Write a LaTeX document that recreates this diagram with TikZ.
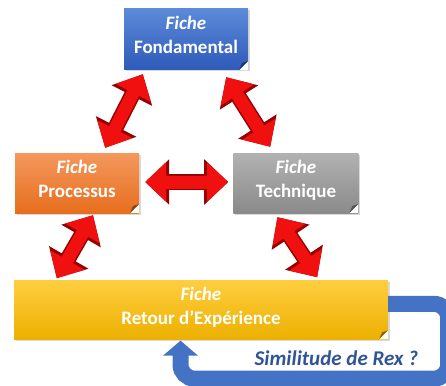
\documentclass[tikz,border=0pt]{standalone}
\usepackage{fontspec}
\setmainfont{Carlito}
\definecolor{bluetop}{RGB}{92, 138, 216}
\definecolor{bluebot}{RGB}{46, 90, 186}
\definecolor{orangetop}{RGB}{243, 152, 92}
\definecolor{orangebot}{RGB}{231, 110, 30}
\definecolor{graytop}{RGB}{178, 178, 178}
\definecolor{graybot}{RGB}{138, 138, 138}
\definecolor{yellowtop}{RGB}{255, 206, 64}
\definecolor{yellowbot}{RGB}{236, 176, 0}
\definecolor{linkred}{RGB}{240, 16, 16}
\definecolor{linkdark}{RGB}{150, 0, 0}
\definecolor{loopblue}{RGB}{68, 114, 196}
\definecolor{labelblue}{RGB}{47, 85, 151}
\usetikzlibrary{
  arrows.meta,
  calc,
  positioning,
  shadows,
}
\tikzset{
  fiche/.style={rectangle,inner sep=0pt,align=center,text=white,
    minimum width=124,minimum height=60,text depth=9pt,
    font=\bfseries\fontsize{19}{24}\selectfont,
    drop shadow={opacity=0.3,shadow xshift=1.5pt,shadow yshift=-1.5pt}},
  fold/.style={path picture={
    \fill[white] ($(path picture bounding box.south east)+(-9,0)$) -- ++(9,0) -- ++(0,-9) -- cycle;
    \fill[#1] ($(path picture bounding box.south east)+(-9,0)$) -- ++(9,-9) -- ++(-6,2) -- cycle;}},
  link/.style={draw=linkred,line width=13pt,
    {Triangle[width=38pt,length=21pt]}-{Triangle[width=38pt,length=21pt]},
    preaction={draw=linkdark,line width=16pt,
      {Triangle[width=44pt,length=24pt]}-{Triangle[width=44pt,length=24pt]}}},
  rexloop/.style={draw=loopblue,line width=16pt,rounded corners=14pt,
    -{Triangle[width=34pt,length=15pt]}},
  rexlabel/.style={text=labelblue,inner sep=0pt,
    font=\bfseries\itshape\fontsize{21}{24}\selectfont},
}

\begin{document}
\begin{tikzpicture}[x=1pt,y=-1pt]
  \useasboundingbox (0,0) rectangle (446,385);
  \clip (0,0) rectangle (446,385);

  \node[fiche,top color=bluetop,bottom color=bluebot,fold=bluebot!60!black,minimum height=61]
    (fond) at (186,39.5) {\textit{Fiche}\\Fondamental};
  \node[fiche,top color=orangetop,bottom color=orangebot,fold=orangebot!60!black]
    (proc) at (77,183) {\textit{Fiche}\\Processus};
  \node[fiche,top color=graytop,bottom color=graybot,fold=graybot!60!black,minimum width=125]
    (tech) [right=94pt of proc] {\textit{Fiche}\\Technique};
  \node[fiche,top color=yellowtop,bottom color=yellowbot,fold=yellowbot!60!black,
    minimum width=374,minimum height=59]
    (rex) [below=67pt of proc.south west,anchor=north west,xshift=-1pt] {\textit{Fiche}\\Retour d’Expérience};

  \draw[link] ($(fond.south west)+(19,4)$) -- ($(proc.north east)+(-34,-5)$);
  \draw[link] ($(fond.south east)+(-22,7)$) -- ($(tech.north west)+(37,-6)$);
  \draw[link] ($(proc.east)+(6,-1)$) -- ($(tech.west)+(-5,-1)$);
  \draw[link] ($(proc.south)+(16,2)$) -- ($(rex.north west)+(43,-2)$);
  \draw[link] ($(tech.south)+(-18.5,4)$) -- ($(rex.north east)+(-71,-3)$);

  \draw[rexloop] ($(rex.east)+(0,-6)$) -- ($(rex.east)+(60,-6)$)
    -- ($(rex.south east)+(60,39)$) -- ($(rex.south)+(-20.5,39)$) -- ($(rex.south)+(-20.5,1)$);
  \node[rexlabel,anchor=east] (simil) at ($(rex.south east)+(30,19)$) {Similitude de Rex ?};
\end{tikzpicture}
\end{document}
